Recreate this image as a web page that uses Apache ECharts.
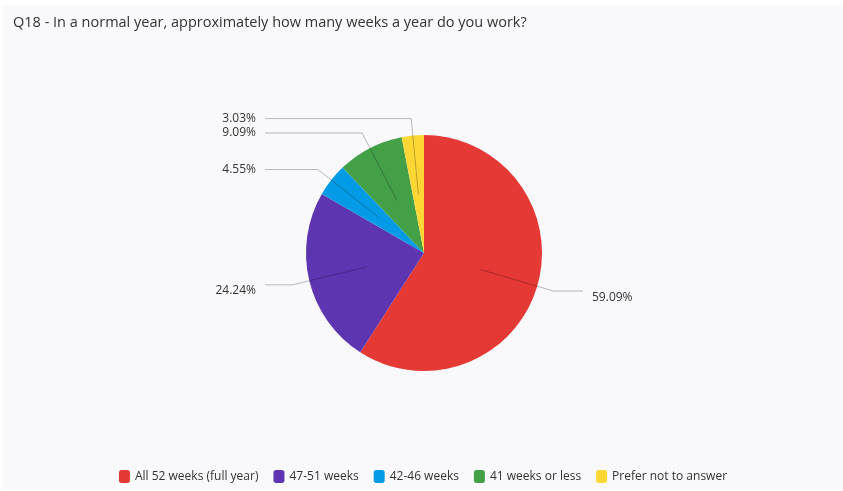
<!DOCTYPE html>
<html>
<head>
<meta charset="utf-8">
<script src="https://cdn.jsdelivr.net/npm/echarts@6/dist/echarts.min.js"></script>
<style>
  html, body { margin: 0; padding: 0; background: #ffffff; }
  #chart { position: absolute; left: 3px; top: 5px; width: 840px; height: 484px; background: #f9f9fb; }
</style>
</head>
<body>
<div id="chart"></div>
<script>
// ---- data ----
const titleText = 'Q18 - In a normal year, approximately how many weeks a year do you work?';
const categories = ['All 52 weeks (full year)', '47-51 weeks', '42-46 weeks', '41 weeks or less', 'Prefer not to answer'];
const percentages = [59.09, 24.24, 4.55, 9.09, 3.03];
const colors = ['#e53935', '#5e35b1', '#039be5', '#43a047', '#fdd835'];

// ---- layout ----
const CX = 421, CY = 248, R = 118;
const R_IN = 59;          // where leader lines start (inside the slice)
const R_BEND = 135;       // where leader lines bend
const X_END = 159;        // horizontal distance from centre to leader line end

const chart = echarts.init(document.getElementById('chart'));
const font = '"Open Sans", "Noto Sans", sans-serif';

const total = percentages.reduce((a, b) => a + b, 0);
let cum = 0;
const midAngles = percentages.map(v => { const m = (cum + v / 2) / total * 2 * Math.PI; cum += v; return m; });

const leaderData = categories.map((c, i) => ({
  name: c,
  value: percentages[i],
  itemStyle: { color: 'rgba(0,0,0,0)' },
  labelLine: { length: R_BEND - R_IN, length2: Math.max(1, X_END - R_BEND * Math.abs(Math.sin(midAngles[i]))) }
}));

chart.setOption({
  backgroundColor: '#f9f9fb',
  animation: false,
  title: {
    text: titleText,
    left: 5, top: 5,
    textStyle: { fontFamily: font, fontSize: 14.5, fontWeight: 'normal', color: '#333' }
  },
  legend: {
    left: 'center', bottom: 1,
    itemWidth: 11, itemHeight: 13, itemGap: 15,
    icon: 'roundRect',
    textStyle: { fontFamily: font, fontSize: 12, color: '#333' },
    data: categories
  },
  series: [{
    type: 'pie',
    z: 1,
    center: [CX, CY],
    radius: R,
    startAngle: 90,
    clockwise: true,
    label: { show: false },
    labelLine: { show: false },
    data: categories.map((c, i) => ({ name: c, value: percentages[i], itemStyle: { color: colors[i] } })),
    emphasis: { disabled: true },
    silent: true
  }, {
    type: 'pie',
    z: 5,
    center: [CX, CY],
    radius: R_IN,
    startAngle: 90,
    clockwise: true,
    avoidLabelOverlap: false,
    silent: true,
    data: leaderData,
    label: {
      show: true,
      formatter: p => p.value.toFixed(2) + '%',
      fontFamily: font, fontSize: 12, color: '#333',
      distanceToLabelLine: 9
    },
    labelLine: {
      show: true, smooth: false,
      lineStyle: { color: 'rgba(0,0,0,0.26)', width: 1 }
    },
    labelLayout: function (params) {
      const a = midAngles[params.dataIndex];
      const dirY = -Math.cos(a);
      return { dy: Math.max(0, 24 * dirY) };
    },
    emphasis: { disabled: true }
  }]
});
</script>
</body>
</html>
